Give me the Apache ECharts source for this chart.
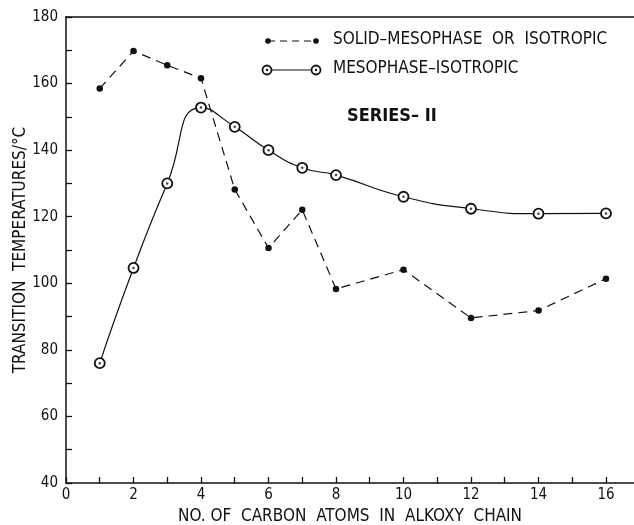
<!DOCTYPE html>
<html>
<head>
<meta charset="utf-8">
<script src="https://cdn.jsdelivr.net/npm/echarts@6/dist/echarts.min.js"></script>
<style>html,body{margin:0;padding:0;background:#fff;}#c{width:634px;height:525px;}</style>
</head>
<body>
<div id="c"></div>
<script>
const carbonAtoms = [1, 2, 3, 4, 5, 6, 7, 8, 10, 12, 14, 16];
const solidMeso = [158.5, 169.8, 165.5, 161.6, 128.2, 110.6, 122.1, 98.3, 104.1, 89.6, 91.8, 101.4];
const mesoIso = [76, 104.6, 130, 152.8, 147, 140, 134.7, 132.5, 126, 122.4, 120.9, 121];
const xTicks = [0, 1, 2, 3, 4, 5, 6, 7, 8, 9, 10, 11, 12, 13, 14, 15, 16];
const xTickLabels = [0, 2, 4, 6, 8, 10, 12, 14, 16];
const yTicks = [40, 50, 60, 70, 80, 90, 100, 110, 120, 130, 140, 150, 160, 170, 180];
const yTickLabels = [40, 60, 80, 100, 120, 140, 160, 180];
const seriesNames = ['SOLID\u2013MESOPHASE  OR  ISOTROPIC', 'MESOPHASE\u2013ISOTROPIC'];
const xTitle = 'NO. OF  CARBON  ATOMS  IN  ALKOXY  CHAIN';
const yTitle = 'TRANSITION  TEMPERATURES/\u00B0C';
const seriesTitle = 'SERIES\u2013 II';

const FONT = "'DejaVu Sans Condensed','Liberation Sans Narrow','Roboto Condensed','DejaVu Sans',sans-serif";
const INK = '#111';

const pairs = (ys) => carbonAtoms.map((x, i) => [x, ys[i]]);

const chart = echarts.init(document.getElementById('c'), null, {renderer: 'canvas'});
chart.setOption({
  backgroundColor: '#fff',
  animation: false,
  grid: {left: 66, top: 17, right: 0, bottom: 42, containLabel: false, outerBoundsMode: 'none'},
  xAxis: [{
    type: 'value', min: 0, max: 16.83, interval: 1,
    name: xTitle, nameLocation: 'middle', nameGap: 25,
    nameTextStyle: {fontFamily: FONT, fontSize: 17, color: INK},
    axisLine: {show: true, lineStyle: {color: INK, width: 1.5}},
    axisTick: {show: true, inside: true, length: 6, customValues: xTicks, lineStyle: {color: INK, width: 1.3}},
    axisLabel: {
      fontFamily: FONT, fontSize: 15, color: INK, margin: 5, customValues: xTickLabels,
      formatter: (v) => xTickLabels.indexOf(Math.round(v * 1000) / 1000) >= 0 ? String(v) : ''
    },
    splitLine: {show: false}
  }, {
    type: 'value', position: 'top', min: 0, max: 16.83,
    axisLine: {show: true, lineStyle: {color: INK, width: 1.5}},
    axisTick: {show: false}, axisLabel: {show: false}, splitLine: {show: false}
  }],
  yAxis: {
    type: 'value', min: 40, max: 180, interval: 10,
    name: yTitle, nameLocation: 'middle', nameGap: 37, nameRotate: 90, nameMoveOverlap: false,
    nameTextStyle: {fontFamily: FONT, fontSize: 17, color: INK},
    axisLine: {show: true, lineStyle: {color: INK, width: 1.5}},
    axisTick: {show: true, inside: true, length: 6, customValues: yTicks, lineStyle: {color: INK, width: 1.3}},
    axisLabel: {
      fontFamily: FONT, fontSize: 15, color: INK, margin: 8, customValues: yTickLabels,
      formatter: (v) => yTickLabels.indexOf(Math.round(v)) >= 0 ? String(Math.round(v)) : ''
    },
    splitLine: {show: false}
  },
  series: [{
    name: seriesNames[0], type: 'line', data: pairs(solidMeso),
    symbol: 'circle', symbolSize: 6.5,
    itemStyle: {color: INK},
    lineStyle: {color: INK, width: 1.2, type: [9, 6]},
    z: 3
  }, {
    name: seriesNames[1], type: 'line', data: pairs(mesoIso),
    smooth: 0.55,
    symbol: 'circle', symbolSize: 10,
    itemStyle: {color: '#fff', borderColor: INK, borderWidth: 1.8},
    lineStyle: {color: INK, width: 1.2},
    z: 4
  }, {
    name: 'centers', type: 'scatter', data: pairs(mesoIso),
    symbol: 'circle', symbolSize: 2.5, silent: true,
    itemStyle: {color: INK}, z: 6
  }],
  graphic: [
    {type: 'line', shape: {x1: 268, y1: 41, x2: 316, y2: 41}, style: {stroke: INK, lineWidth: 1.2, lineDash: [7, 5]}},
    {type: 'circle', shape: {cx: 268, cy: 41, r: 2.8}, style: {fill: INK}},
    {type: 'circle', shape: {cx: 316, cy: 41, r: 2.8}, style: {fill: INK}},
    {type: 'text', left: 333, top: 31, style: {text: seriesNames[0], font: '17px ' + FONT, fill: INK}},
    {type: 'line', shape: {x1: 267, y1: 70, x2: 316, y2: 70}, style: {stroke: INK, lineWidth: 1.2}},
    {type: 'circle', shape: {cx: 267, cy: 70, r: 4.5}, style: {fill: '#fff', stroke: INK, lineWidth: 1.8}, z: 10},
    {type: 'circle', shape: {cx: 316, cy: 70, r: 4.5}, style: {fill: '#fff', stroke: INK, lineWidth: 1.8}, z: 10},
    {type: 'circle', shape: {cx: 267, cy: 70, r: 1.2}, style: {fill: INK}, z: 11},
    {type: 'circle', shape: {cx: 316, cy: 70, r: 1.2}, style: {fill: INK}, z: 11},
    {type: 'text', left: 333, top: 60, style: {text: seriesNames[1], font: '17px ' + FONT, fill: INK}},
    {type: 'text', left: 347, top: 107, style: {text: seriesTitle, font: 'bold 18px ' + FONT, fill: INK}}
  ]
});
</script>
</body>
</html>
